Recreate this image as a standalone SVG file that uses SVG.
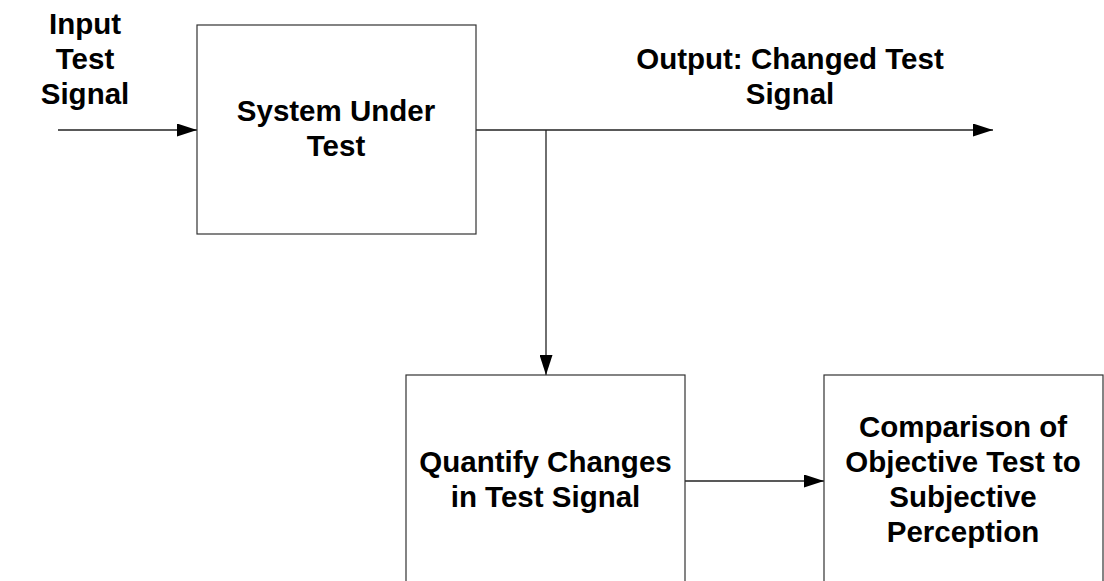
<svg xmlns="http://www.w3.org/2000/svg" width="1104" height="581" viewBox="0 0 1104 581">
  <style>
    .box { fill: #ffffff; stroke: #333333; stroke-width: 1.2; }
    .wire { fill: none; stroke: #222222; stroke-width: 1.3; }
    .label { font-family: "Liberation Sans", Arial, sans-serif; font-weight: bold; font-size: 29.5px; fill: #000000; text-anchor: middle; }
  </style>
  <defs>
    <marker id="arrow" markerUnits="userSpaceOnUse" markerWidth="20" markerHeight="13" refX="20" refY="6.5" orient="auto">
      <path d="M0,0 L20,6.5 L0,13 Z" fill="#000000"/>
    </marker>
  </defs>
  <rect width="1104" height="581" fill="#ffffff"/>

  <!-- connectors -->
  <g id="connectors">
    <line class="wire" x1="58" y1="130" x2="197" y2="130" marker-end="url(#arrow)"/>
    <line class="wire" x1="476" y1="130" x2="993" y2="130" marker-end="url(#arrow)"/>
    <line class="wire" x1="546" y1="130" x2="546" y2="375" marker-end="url(#arrow)"/>
    <line class="wire" x1="685" y1="481" x2="824" y2="481" marker-end="url(#arrow)"/>
  </g>

  <!-- free labels -->
  <g id="input-label">
    <text class="label" x="85" y="34">Input</text>
    <text class="label" x="85" y="69">Test</text>
    <text class="label" x="85" y="104">Signal</text>
  </g>
  <g id="output-label">
    <text class="label" x="790" y="69">Output: Changed Test</text>
    <text class="label" x="790" y="104">Signal</text>
  </g>

  <!-- blocks -->
  <g id="system-under-test">
    <rect class="box" x="197" y="25" width="279" height="209"/>
    <text class="label" x="336" y="121">System Under</text>
    <text class="label" x="336" y="156">Test</text>
  </g>
  <g id="quantify-changes">
    <rect class="box" x="406" y="375" width="279" height="240"/>
    <text class="label" x="545.5" y="472">Quantify Changes</text>
    <text class="label" x="545.5" y="507">in Test Signal</text>
  </g>
  <g id="comparison">
    <rect class="box" x="824" y="375" width="279" height="240"/>
    <text class="label" x="963" y="437">Comparison of</text>
    <text class="label" x="963" y="472">Objective Test to</text>
    <text class="label" x="963" y="507">Subjective</text>
    <text class="label" x="963" y="542">Perception</text>
  </g>
</svg>
